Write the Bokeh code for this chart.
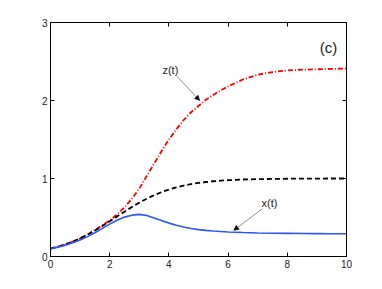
from bokeh.plotting import figure
from bokeh.models import LinearAxis, Range1d, Label, Arrow, NormalHead, FixedTicker
from bokeh.embed import file_html
from bokeh.resources import INLINE

# time grid
t = [0.0, 0.25, 0.5, 0.75, 1.0, 1.25, 1.5, 1.75, 2.0, 2.25, 2.5, 2.75, 3.0, 3.25,
     3.5, 3.75, 4.0, 4.25, 4.5, 4.75, 5.0, 5.25, 5.5, 5.75, 6.0, 6.5, 7.0, 7.5,
     8.0, 8.5, 9.0, 9.5, 10.0]

# x(t): blue solid
x_vals = [0.10, 0.12, 0.145, 0.175, 0.21, 0.255, 0.305, 0.36, 0.415, 0.465, 0.505,
          0.53, 0.54, 0.525, 0.495, 0.46, 0.428, 0.40, 0.378, 0.36, 0.345, 0.335,
          0.327, 0.32, 0.315, 0.307, 0.302, 0.298, 0.296, 0.294, 0.293, 0.292, 0.292]

# y(t): black dashed
y_vals = [0.10, 0.125, 0.155, 0.19, 0.232, 0.279, 0.332, 0.39, 0.451, 0.513, 0.575,
          0.635, 0.691, 0.741, 0.786, 0.825, 0.858, 0.886, 0.909, 0.928, 0.943, 0.955,
          0.965, 0.972, 0.978, 0.987, 0.992, 0.995, 0.997, 0.998, 0.999, 1.0, 1.0]

# z(t): red dash-dot
z_vals = [0.10, 0.125, 0.155, 0.19, 0.23, 0.28, 0.34, 0.40, 0.46, 0.54, 0.63,
          0.74, 0.87, 1.03, 1.19, 1.35, 1.50, 1.63, 1.75, 1.85, 1.93, 2.01,
          2.07, 2.13, 2.18, 2.27, 2.33, 2.365, 2.385, 2.395, 2.40, 2.405, 2.41]

x_ticks = [0, 2, 4, 6, 8, 10]
y_ticks = [0, 1, 2, 3]

FONT = "Liberation Sans"

p = figure(output_backend="svg", toolbar_location=None,
           frame_width=296, frame_height=234,
           min_border_left=50, min_border_top=22, min_border_right=20, min_border_bottom=20,
           x_range=Range1d(0, 10), y_range=Range1d(0, 3))
p.xgrid.visible = False
p.ygrid.visible = False
p.outline_line_color = "black"
p.outline_line_width = 1
p.background_fill_color = "white"
p.border_fill_color = "white"

def style_axis(ax, ticks, show_labels=True):
    ax.ticker = FixedTicker(ticks=ticks)
    ax.minor_tick_line_color = None
    ax.major_tick_in = 4
    ax.major_tick_out = 0
    ax.axis_line_color = "black"
    ax.major_tick_line_color = "black"
    ax.major_label_text_font = FONT
    ax.major_label_text_font_size = "10px"
    ax.major_label_text_color = "#222222"
    ax.major_label_standoff = 3
    if not show_labels:
        ax.major_label_text_color = None
        ax.major_label_text_font_size = "1px"
        ax.major_label_standoff = 0

style_axis(p.xaxis[0], x_ticks)
style_axis(p.yaxis[0], y_ticks)
top = LinearAxis()
right = LinearAxis()
style_axis(top, x_ticks, False)
style_axis(right, y_ticks, False)
p.add_layout(top, "above")
p.add_layout(right, "right")

p.line(t, z_vals, line_color="#ff0000", line_width=1.8, line_dash="5 2 1 2")
p.line(t, y_vals, line_color="black", line_width=1.8, line_dash="5 3")
p.line(t, x_vals, line_color="#2a55ff", line_width=1.6)

# annotations
p.add_layout(Label(x=4.05, y=2.39, text="z(t)", text_font=FONT, text_font_size="11px",
                   text_align="center", text_baseline="middle", text_color="#222222"))
p.add_layout(Label(x=7.4, y=0.69, text="x(t)", text_font=FONT, text_font_size="11px",
                   text_align="center", text_baseline="middle", text_color="#222222"))
p.add_layout(Label(x=9.39, y=2.68, text="(c)", text_font=FONT, text_font_size="15px",
                   text_align="center", text_baseline="middle", text_color="#222222"))

p.add_layout(Arrow(x_start=4.27, y_start=2.31, x_end=5.04, y_end=2.0,
                   line_color="#444444", line_width=0.6,
                   end=NormalHead(size=5, fill_color="black", line_color="black", line_width=0.5)))
p.add_layout(Arrow(x_start=7.15, y_start=0.61, x_end=6.19, y_end=0.335,
                   line_color="#444444", line_width=0.6,
                   end=NormalHead(size=5, fill_color="black", line_color="black", line_width=0.5)))

open("out.html", "w").write(file_html(p, INLINE))
